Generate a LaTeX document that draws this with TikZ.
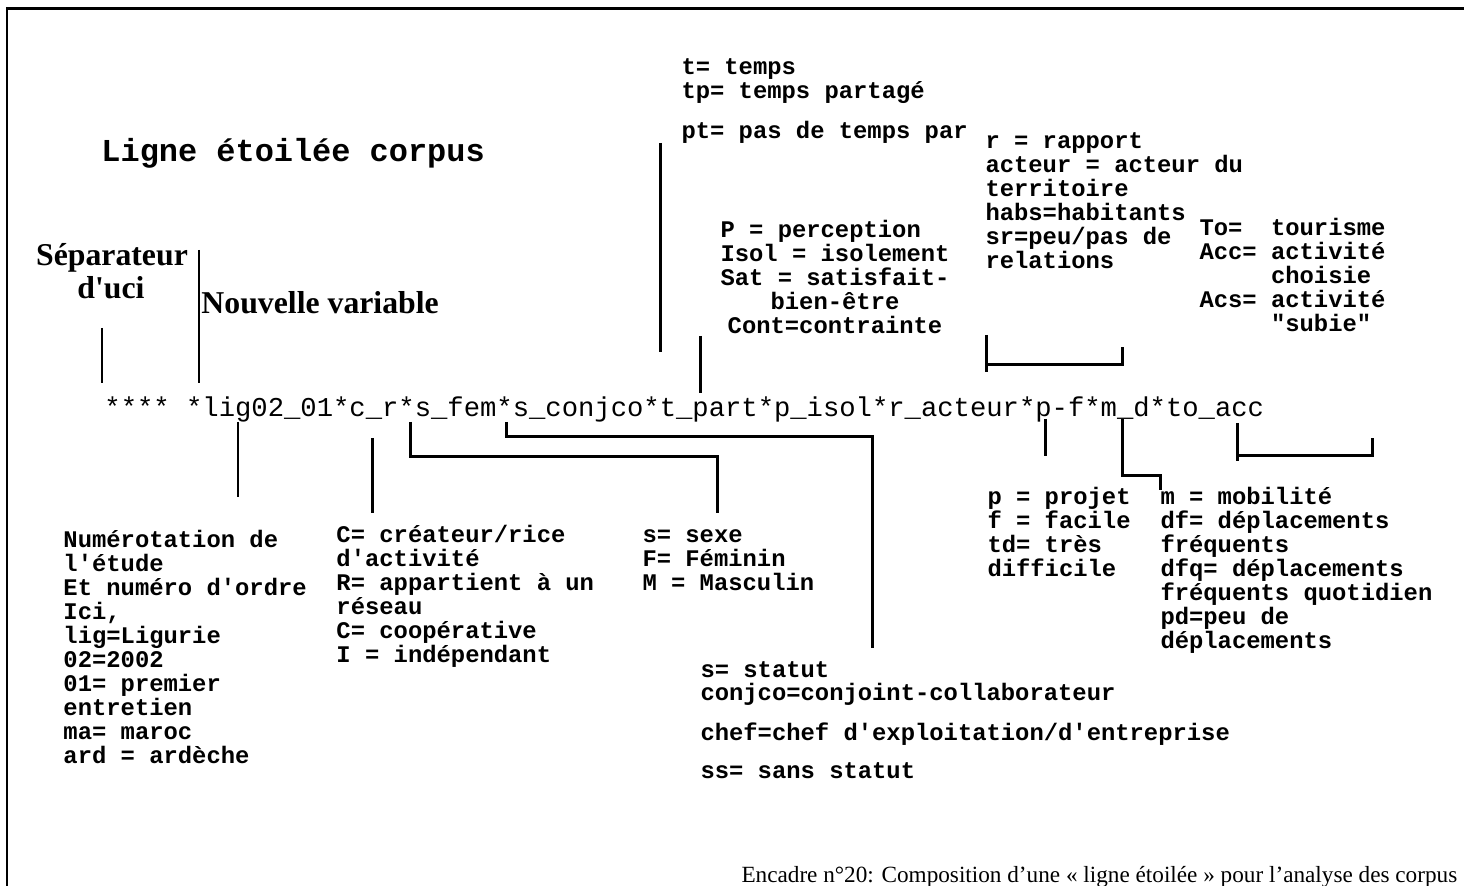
\documentclass[tikz,border=0pt]{standalone}
\usepackage{fontspec}
\setmainfont{Liberation Serif}
\setmonofont{Liberation Mono}

\begin{document}
\begin{tikzpicture}[x=0.01cm, y=-0.01cm, line width=0.85pt,
  code/.style={inner sep=0pt, anchor=base west, font=\ttfamily\bfseries\fontsize{6.78}{7}\selectfont},
  codec/.style={code, anchor=base},
  head/.style={inner sep=0pt, anchor=base west, font=\bfseries\fontsize{9.03}{9.4}\selectfont}]

\useasboundingbox (0,0) rectangle (1464,886);

% frame
\draw (1464,9) -- (7,9) -- (7,886);

% title and starred line
\node[code, font=\ttfamily\bfseries\fontsize{9.08}{9.5}\selectfont] (title) at (100,162) {Ligne étoilée corpus};
\node[code, font=\ttfamily\fontsize{7.74}{8}\selectfont] (star) at (103,417)
  {**** *lig02\_01*c\_r*s\_fem*s\_conjco*t\_part*p\_isol*r\_acteur*p-f*m\_d*to\_acc};

\node[head, anchor=base] (sep) at (112,266) {Séparateur};
\node[head, anchor=base] (uci) at (111,299) {d\textquotesingle uci};
\node[head] (newvar) at (200,314) {Nouvelle variable};

% labels above
\foreach \y/\t [count=\i] in {75/t= temps, 99/tp= temps partagé, 139/pt= pas de temps par}
  \node[code] (time\i) at (680,\y) {\t};
\foreach \t [count=\i from 0] in {{P = perception\hphantom{xx}}, Isol = isolement, Sat = satisfait-, bien-être, Cont=contrainte}
  \node[codec] (perc\i) at (835,238+24*\i) {\t};
\foreach \t [count=\i from 0] in {r = rapport, acteur = acteur du, territoire, habs=habitants, {sr=peu/pas de}, relations}
  \node[code] (rap\i) at (984,149+24*\i) {\t};
\foreach \t [count=\i from 0] in {To=\ \ tourisme, Acc= activité, {\ \ \ \ \ choisie}, Acs= activité, {\ \ \ \ \ "subie"}}
  \node[code] (tour\i) at (1198,236+24*\i) {\t};

% labels below
\foreach \t [count=\i from 0] in {Numérotation de, l'étude, Et numéro d'ordre, {Ici,}, lig=Ligurie, 02=2002, 01= premier, entretien, ma= maroc, ard = ardèche}
  \node[code] (num\i) at (62,548+23.9*\i) {\t};
\foreach \t [count=\i from 0] in {{C= créateur/rice}, d'activité, R= appartient à un, réseau, C= coopérative, I = indépendant}
  \node[code] (crea\i) at (335,543+24*\i) {\t};
\foreach \t [count=\i from 0] in {s= sexe, F= Féminin, M = Masculin}
  \node[code] (sexe\i) at (641,543+24*\i) {\t};
\foreach \t [count=\i from 0] in {p = projet, f = facile, td= très, difficile}
  \node[code] (proj\i) at (986,505+24*\i) {\t};
\foreach \t [count=\i from 0] in {m = mobilité, df= déplacements, fréquents, dfq= déplacements, fréquents quotidien, pd=peu de, déplacements}
  \node[code] (mob\i) at (1159,505+24*\i) {\t};
\foreach \y/\t [count=\i] in {678/s= statut, 701/conjco=conjoint-collaborateur, 741/{chef=chef d'exploitation/d'entreprise}, 779/ss= sans statut}
  \node[code] (stat\i) at (699,\y) {\t};

\node[inner sep=0pt, anchor=base west, font=\fontsize{6.6}{7}\selectfont] (caption) at (740,882)
  {Encadre n°20: Composition d’une « ligne étoilée » pour l’analyse des corpus};

% leader ends
\foreach \n/\x/\y in {sepA/102/328, sepB/102/383, newA/199/250, newB/199/383,
    tpsA/660/143, tpsB/660/352, partA/700/336, partB/700/393,
    actA/986/335, actB/986/372, actC/986/365, actD/1122/347,
    ligA/238/422, ligB/238/497, crA/372/438, crB/372/513,
    femA/410/422, femB/717/457, femC/717/513, conjA/506/422, conjB/872/437, conjC/872/648,
    pfA/1045/419, pfB/1045/456, mdA/1122/419, mdB/1160/476, mdC/1160/490,
    toA/1237/423, toB/1237/461, toC/1237/456, toD/1372/438}
  \coordinate (\n) at (\x,\y);

% leaders
\draw (sepA) -- (sepB);
\draw (newA) -- (newB);
\draw (tpsA) -- (tpsB);
\draw (partA) -- (partB);
\draw (actA) -- (actB);
\draw (actC) -| (actD);
\draw (ligA) -- (ligB);
\draw (crA) -- (crB);
\draw (femA) |- (femB) -- (femC);
\draw (conjA) |- (conjB) -- (conjC);
\draw (pfA) -- (pfB);
\draw (mdA) |- (mdB) -- (mdC);
\draw (toA) -- (toB);
\draw (toC) -| (toD);

\end{tikzpicture}
\end{document}
